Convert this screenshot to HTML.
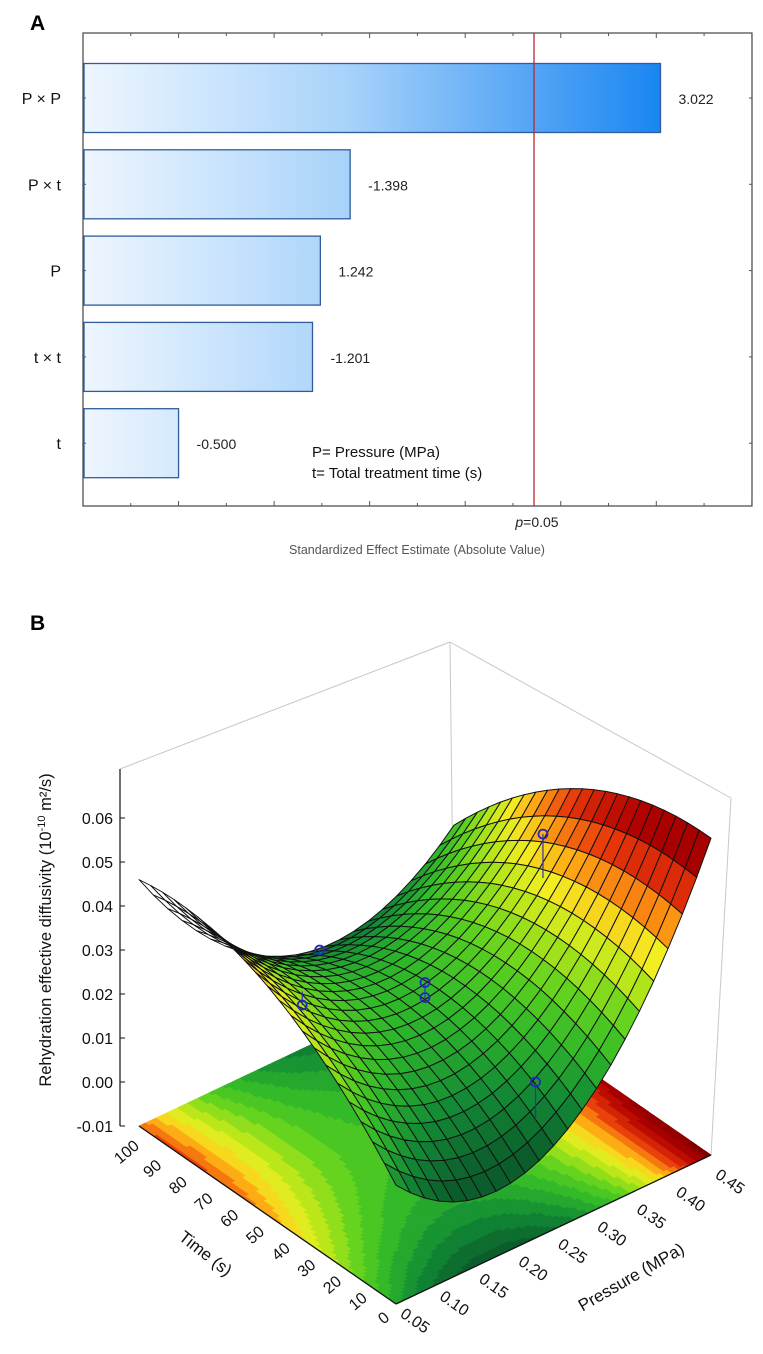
<!DOCTYPE html>
<html><head><meta charset="utf-8">
<style>
html,body{margin:0;padding:0;background:#fff;}
svg{display:block;font-family:"Liberation Sans",Arial,sans-serif;}
</style></head>
<body>
<svg id="fig" width="763" height="1354" viewBox="0 0 763 1354" xmlns="http://www.w3.org/2000/svg">
<defs>
<linearGradient id="barGrad" gradientUnits="userSpaceOnUse" x1="84" y1="0" x2="660" y2="0">
<stop offset="0" stop-color="#eef6fe"/><stop offset="0.45" stop-color="#a9d3fa"/><stop offset="1" stop-color="#1a86f2"/>
</linearGradient>
</defs>
<text x="30" y="30" font-size="21" font-weight="bold">A</text>
<g id="pareto"></g>
<text x="30" y="630" font-size="21" font-weight="bold">B</text>
<g id="surf3d"></g>
</svg>
<script>
// ---------- Panel A data ----------
const effectNames = ["P × P", "P × t", "P", "t × t", "t"];
const effectValues = [3.022, 1.398, 1.242, 1.201, 0.500];
const effectLabels = ["3.022", "-1.398", "1.242", "-1.201", "-0.500"];
const pCritical = 2.36;
// ---------- Panel B data ----------
const zTicks = [-0.01, 0.00, 0.01, 0.02, 0.03, 0.04, 0.05, 0.06];
const timeTicks = [0, 10, 20, 30, 40, 50, 60, 70, 80, 90, 100];
const pressureTicks = [0.05, 0.10, 0.15, 0.20, 0.25, 0.30, 0.35, 0.40, 0.45];
// surface anchor values (rows: t = 0, 50, 100; cols: P = 0.05, 0.25, 0.45)
const surfT0 = [0.017, 0.009, 0.062];
const surfT50 = [0.042, 0.022, 0.053];
const surfT100 = [0.046, 0.012, 0.0245];
const obsP = [0.25, 0.25, 0.39, 0.25, 0.25, 0.13];
const obsT = [50, 50, 47, 7, 91, 61];
const obsZ = [0.0259, 0.0225, 0.049, 0.0207, 0.0167, 0.0265];

const NS = "http://www.w3.org/2000/svg";
function mk(tag, attrs, parent){const e=document.createElementNS(NS,tag);for(const k in attrs)e.setAttribute(k,attrs[k]);parent.appendChild(e);return e;}

// ---------- Panel A ----------
(function(){
  const g = document.getElementById('pareto');
  const L=83,R=752,T=33,B=506;
  const xs = v => 83 + v*191.1;
  const rowC = i => 98 + i*86.3;
  const fr = mk('rect',{x:L,y:T,width:R-L,height:B-T,fill:'none',stroke:'#444','stroke-width':1.2},g);
  
  
  for(let v=0.25; v<=3.5; v+=0.25){
    const x=xs(v); const len = (Math.abs(v*2-Math.round(v*2))<1e-6)?5:3;
    const t1=mk('line',{x1:x,x2:x,y1:B,y2:B-len,stroke:'#555','stroke-width':1},g);
    
    
    const t2=mk('line',{x1:x,x2:x,y1:T,y2:T+len,stroke:'#555','stroke-width':1},g);
    
    
  }
  effectNames.forEach((n,i)=>{
    const c=rowC(i);
    const w=xs(effectValues[i])-84;
    const bar=mk('rect',{x:84,y:c-34.5,width:w,height:69,fill:'url(#barGrad)',stroke:'#2f5d9c','stroke-width':1.3},g);
    
    
    const lb=mk('text',{x:61,y:c+6,'font-size':16,'text-anchor':'end',fill:'#111'},g);
    lb.textContent=n;
    
    
    const vl=mk('text',{x:xs(effectValues[i])+18,y:c+6,'font-size':14,fill:'#222'},g);
    vl.textContent=effectLabels[i];
    
    
    for(const xx of [L,R]){
      const tk=mk('line',{x1:xx,x2:xx+(xx===L?3:-3),y1:c,y2:c,stroke:'#555'},g);
      
      
    }
  });
  const pl=mk('line',{x1:xs(pCritical),x2:xs(pCritical),y1:T,y2:B,stroke:'#c0282a','stroke-width':1.3},g);
  
  
  const pt=mk('text',{x:xs(pCritical)+3,y:527,'font-size':14,'text-anchor':'middle',fill:'#222'},g);
  pt.innerHTML='<tspan font-style="italic">p</tspan>=0.05';
  
  
  const at=mk('text',{x:417,y:554,'font-size':12.5,'text-anchor':'middle',fill:'#555'},g);
  at.textContent='Standardized Effect Estimate (Absolute Value)';
  
  
  const n1=mk('text',{x:312,y:457,'font-size':15,fill:'#111'},g);
  n1.textContent='P= Pressure (MPa)';
  
  
  const n2=mk('text',{x:312,y:478,'font-size':15,fill:'#111'},g);
  n2.textContent='t= Total treatment time (s)';
  
  
})();

// ---------- Panel B ----------
(function(){
  const g=document.getElementById('surf3d');
  function proj(P,t,z){const u=(P-0.05)/0.4, v=t/100;
    return [396+u*315-v*257, 1304-u*149-v*178-(z+0.01)*4400];}
  const grid=[surfT0,surfT50,surfT100];
  function lag(s){return [s*(s-1)/2, 1-s*s, s*(s+1)/2];}
  function model(P,t){const x=(P-0.25)/0.2,y=(t-50)/50;const lx=lag(x),ly=lag(y);let z=0;
    for(let r=0;r<3;r++)for(let c=0;c<3;c++)z+=ly[r]*lx[c]*grid[r][c];return z;}
  const stops=[[0.008,[11,94,44]],[0.015,[19,138,53]],[0.022,[48,184,42]],[0.028,[95,210,31]],[0.034,[181,230,26]],[0.039,[242,238,34]],[0.044,[255,165,20]],[0.050,[232,56,10]],[0.057,[176,0,0]],[0.065,[122,0,0]]];
  function cmap(z){
    if(z<=stops[0][0])return 'rgb('+stops[0][1]+')';
    for(let i=1;i<stops.length;i++){if(z<=stops[i][0]){const a=stops[i-1],b=stops[i],f=(z-a[0])/(b[0]-a[0]);
      return 'rgb('+a[1].map((c,k)=>Math.round(c+(b[1][k]-c)*f)).join(',')+')';}}
    return 'rgb('+stops[stops.length-1][1]+')';
  }
  const frame=[[120,769,450,642],[450,642,731,798],[450,642,454,977],[120,769,120,1126],[731,798,711,1155]];
  frame.forEach(f=>{const l=mk('line',{x1:f[0],y1:f[1],x2:f[2],y2:f[3],stroke:'#c8c8c8','stroke-width':1},g);
    
    });
  const NF=90;
  const fg=mk('g',{},g);
  
  
  for(let i=0;i<NF;i++)for(let j=0;j<NF;j++){
    const P0=0.05+0.4*i/NF,P1=0.05+0.4*(i+1)/NF,t0=100*j/NF,t1=100*(j+1)/NF;
    let z=model((P0+P1)/2,(t0+t1)/2)+0.002; z=Math.floor(z/0.003)*0.003+0.0015;
    const pts=[proj(P0,t0,-0.01),proj(P1,t0,-0.01),proj(P1,t1,-0.01),proj(P0,t1,-0.01)];
    const c=cmap(z);
    mk('polygon',{points:pts.map(p=>p[0].toFixed(1)+','+p[1].toFixed(1)).join(' '),fill:c,stroke:c,'stroke-width':0.7},fg);
  }
  [[0.05,0,0.45,0],[0.05,0,0.05,100]].forEach(e=>{const a=proj(e[0],e[1],-0.01),b=proj(e[2],e[3],-0.01);
    const l=mk('line',{x1:a[0],y1:a[1],x2:b[0],y2:b[1],stroke:'#111','stroke-width':1.3},g);
    
    });
  const za=proj(0.05,100,-0.01);
  const zl=mk('line',{x1:za[0]-19,y1:za[1],x2:za[0]-19,y2:769,stroke:'#111','stroke-width':1.2},g);
  
  
  zTicks.forEach(z=>{const p=proj(0.05,100,z);
    const tk=mk('line',{x1:p[0]-19,x2:p[0]-14,y1:p[1],y2:p[1],stroke:'#111'},g);
    
    
    const t=mk('text',{x:p[0]-26,y:p[1]+6,'font-size':16,'text-anchor':'end',fill:'#111'},g);
    t.textContent=z.toFixed(2);
    
    });
  const zt=mk('text',{transform:'translate(51,930) rotate(-90)','font-size':16.5,'text-anchor':'middle',fill:'#111'},g);
  zt.innerHTML='Rehydration effective diffusivity (10<tspan dy="-6" font-size="11">-10</tspan><tspan dy="6"> m²/s)</tspan>';
  
  
  timeTicks.forEach(t=>{const p=proj(0.05,t,-0.01);
    const tx=mk('text',{transform:'translate('+(p[0]-9)+','+(p[1]+18+t*0.12)+') rotate(-40)','font-size':16,'text-anchor':'middle',fill:'#111'},g);
    tx.textContent=t;
    
    });
  const tt=mk('text',{transform:'translate(202,1258) rotate(38)','font-size':17,'text-anchor':'middle',fill:'#111'},g);
  tt.textContent='Time (s)';
  
  
  pressureTicks.forEach(P=>{const p=proj(P,0,-0.01);const u=(P-0.05)/0.4;
    const tx=mk('text',{transform:'translate('+(p[0]+16)+','+(p[1]+21+u*10)+') rotate(35)','font-size':16,'text-anchor':'middle',fill:'#111'},g);
    tx.textContent=P.toFixed(2);
    
    });
  const pt=mk('text',{transform:'translate(634,1282) rotate(-30)','font-size':17,'text-anchor':'middle',fill:'#111'},g);
  pt.textContent='Pressure (MPa)';
  
  
  const N=22, quads=[];
  for(let i=0;i<N;i++)for(let j=0;j<N;j++){
    const P0=0.05+0.4*i/N,P1=0.05+0.4*(i+1)/N,t0=100*j/N,t1=100*(j+1)/N;
    const corners=[[P0,t0],[P1,t0],[P1,t1],[P0,t1]];
    const pts=corners.map(c=>proj(c[0],c[1],model(c[0],c[1])));
    const zc=model((P0+P1)/2,(t0+t1)/2);
    let area=0;for(let k=0;k<4;k++){const a=pts[k],b=pts[(k+1)%4];area+=a[0]*b[1]-b[0]*a[1];}
    quads.push({pts,zc,depth:(i+j),area});
  }
  quads.sort((a,b)=>b.depth-a.depth);
  const sg=mk('g',{},g);
  
  
  quads.forEach(q=>{
    const front=q.area<0;
    mk('polygon',{points:q.pts.map(p=>p[0].toFixed(1)+','+p[1].toFixed(1)).join(' '),fill:front?cmap(q.zc):'rgba(255,255,255,0.6)',stroke:'#111','stroke-width':front?1:0.9,'stroke-linejoin':'round'},sg);
  });
  obsP.forEach((P,i)=>{const p=proj(P,obsT[i],obsZ[i]);const s=proj(P,obsT[i],model(P,obsT[i]));
    const st=mk('line',{x1:p[0],y1:p[1],x2:s[0],y2:s[1],stroke:'#3030b0','stroke-width':1.2},g);
    
    
    const c=mk('circle',{cx:p[0],cy:p[1],r:4.5,fill:'none',stroke:'#2626c0','stroke-width':1.8},g);
    
    });
})();
</script>
</body></html>
